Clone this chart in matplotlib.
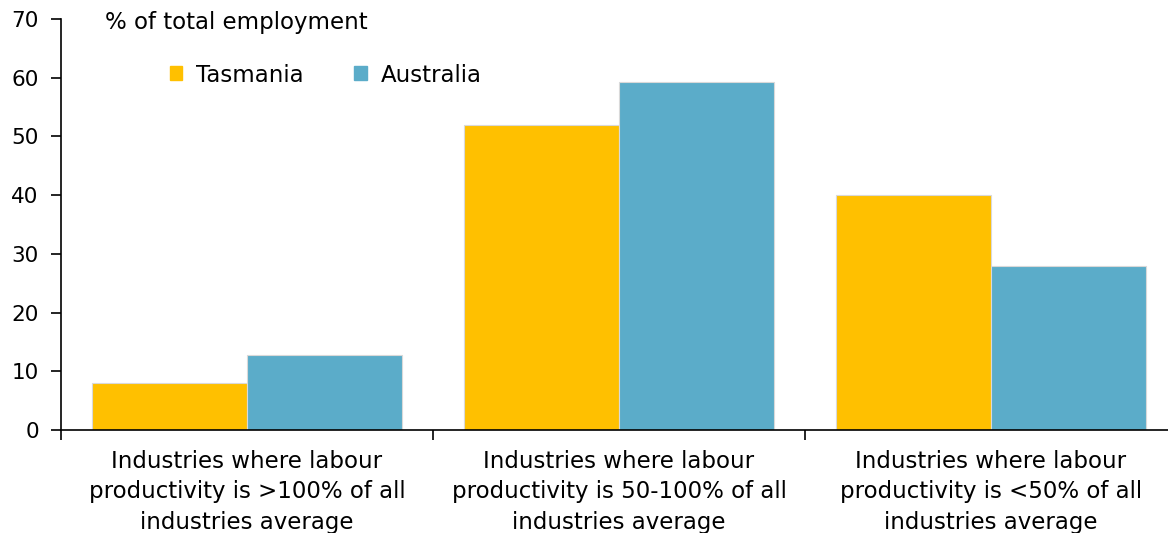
import numpy as np
import matplotlib.pyplot as plt
from matplotlib.patches import Patch

# Data
categories = ["Industries where labour\nproductivity is >100% of all\nindustries average",
              "Industries where labour\nproductivity is 50-100% of all\nindustries average",
              "Industries where labour\nproductivity is <50% of all\nindustries average"]
tasmania = [8.0, 52.0, 40.1]
australia = [12.7, 59.2, 28.0]

plt.rcParams['font.family'] = ['DejaVu Sans']

W, H = 1168, 533
fig = plt.figure(figsize=(W / 100, H / 100), dpi=100)
ax = fig.add_axes([61 / W, (H - 430) / H, 1 - 61 / W, (430 - 19) / H])

x = np.arange(len(categories))
bw = 155 / 372
tas_c = '#FFC000'
aus_c = '#5BACC9'
ax.bar(x - bw / 2, tasmania, bw, color=tas_c, edgecolor='#d9d9d9', linewidth=0.8)
ax.bar(x + bw / 2, australia, bw, color=aus_c, edgecolor='#d9d9d9', linewidth=0.8)

ax.set_ylim(0, 70)
ax.set_xlim(-0.5, 2.5 - 9 / 372)
ax.set_yticks(range(0, 71, 10))
ax.tick_params(axis='y', labelsize=15.5, direction='out', length=7, width=1.2, pad=9)

# category boundary ticks on x axis
ax.set_xticks([-0.5, 0.5, 1.5])
ax.set_xticklabels([])
ax.tick_params(axis='x', direction='out', length=7, width=1.2)
for i, c in enumerate(categories):
    ax.text(i, -3.45, c, ha='center', va='top', fontsize=16.5, linespacing=1.4)

for s in ['top', 'right']:
    ax.spines[s].set_visible(False)
ax.spines['left'].set_linewidth(1.2)
ax.spines['bottom'].set_linewidth(1.2)

fig.text(105 / W, 1 - 22 / H, "% of total employment", fontsize=16.5, va='center')

handles = [Patch(color=tas_c, label='Tasmania'), Patch(color=aus_c, label='Australia')]
fig.legend(handles=handles, loc='center left', bbox_to_anchor=(149 / W, 1 - 75 / H),
           ncol=2, frameon=False, fontsize=16.5, handlelength=0.55, handleheight=0.55,
           columnspacing=2.2, handletextpad=0.6)

fig.savefig('out.png', dpi=100)
